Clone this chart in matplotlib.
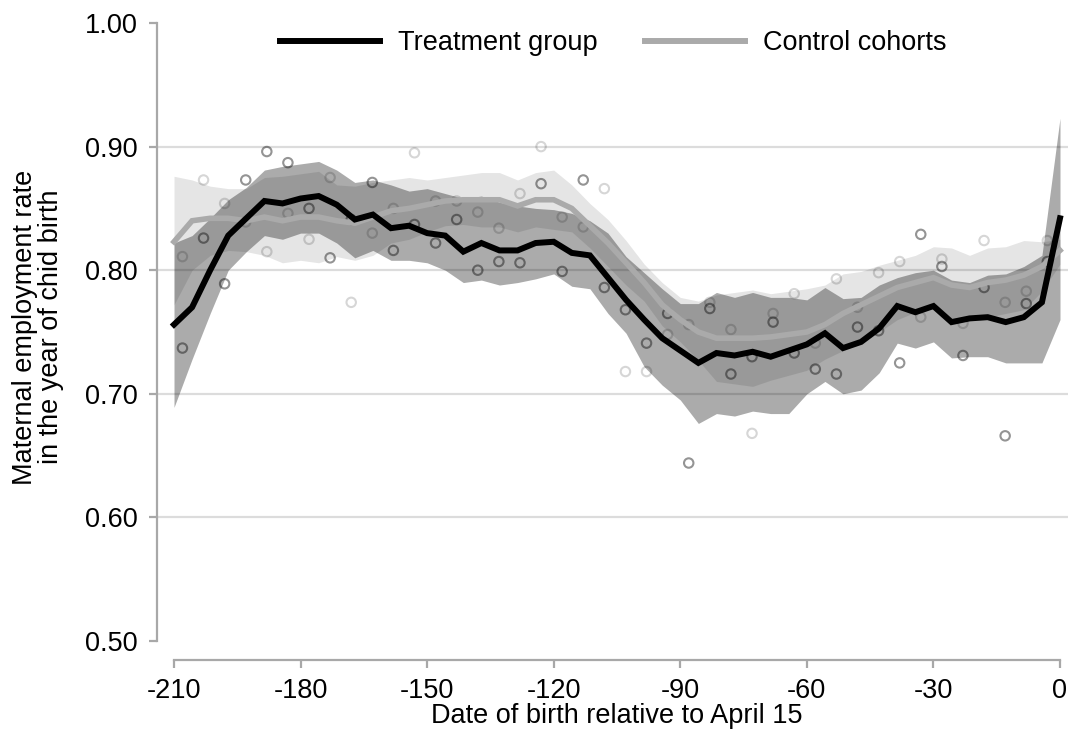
import numpy as np
import matplotlib
matplotlib.use("Agg")
import matplotlib.pyplot as plt
from matplotlib.lines import Line2D

plt.rcParams['font.family'] = ['Liberation Sans', 'DejaVu Sans']

# smoothed series, 50 points from -210 to 0
days = np.linspace(-210, 0, 50)

treat = [0.756, 0.770, 0.800, 0.828, 0.842, 0.856, 0.854, 0.858, 0.860, 0.853,
         0.841, 0.845, 0.834, 0.836, 0.830, 0.828, 0.815, 0.822, 0.816, 0.816,
         0.822, 0.823, 0.814, 0.812, 0.794, 0.776, 0.760, 0.745, 0.735, 0.725,
         0.733, 0.731, 0.734, 0.730, 0.735, 0.740, 0.749, 0.737, 0.742, 0.753,
         0.771, 0.766, 0.771, 0.758, 0.761, 0.762, 0.758, 0.762, 0.774, 0.842]
treat_hi = [0.822, 0.828, 0.842, 0.857, 0.867, 0.881, 0.884, 0.886, 0.888, 0.881,
            0.871, 0.873, 0.869, 0.864, 0.866, 0.862, 0.858, 0.860, 0.855, 0.852,
            0.850, 0.849, 0.846, 0.840, 0.830, 0.811, 0.798, 0.785, 0.773, 0.773,
            0.782, 0.778, 0.782, 0.778, 0.778, 0.776, 0.786, 0.777, 0.778, 0.788,
            0.794, 0.798, 0.800, 0.792, 0.790, 0.796, 0.797, 0.803, 0.812, 0.923]
treat_lo = [0.689, 0.728, 0.765, 0.800, 0.815, 0.828, 0.825, 0.830, 0.830, 0.822,
            0.810, 0.816, 0.808, 0.808, 0.806, 0.800, 0.790, 0.792, 0.788, 0.790,
            0.793, 0.797, 0.787, 0.785, 0.765, 0.749, 0.722, 0.707, 0.695, 0.676,
            0.684, 0.682, 0.686, 0.684, 0.684, 0.700, 0.710, 0.700, 0.703, 0.717,
            0.741, 0.737, 0.742, 0.729, 0.730, 0.730, 0.725, 0.725, 0.725, 0.760]

ctrl = [0.823, 0.840, 0.842, 0.842, 0.840, 0.843, 0.840, 0.843, 0.843, 0.840,
        0.838, 0.843, 0.848, 0.850, 0.853, 0.856, 0.857, 0.857, 0.857, 0.852,
        0.857, 0.857, 0.850, 0.836, 0.822, 0.806, 0.790, 0.772, 0.760, 0.750,
        0.745, 0.745, 0.745, 0.746, 0.748, 0.750, 0.756, 0.765, 0.772, 0.779,
        0.786, 0.790, 0.794, 0.788, 0.786, 0.790, 0.792, 0.796, 0.803, 0.816]
ctrl_hi = [0.876, 0.873, 0.868, 0.866, 0.866, 0.875, 0.876, 0.878, 0.880, 0.869,
           0.868, 0.871, 0.873, 0.875, 0.873, 0.875, 0.877, 0.879, 0.879, 0.873,
           0.879, 0.881, 0.869, 0.854, 0.841, 0.824, 0.805, 0.790, 0.778, 0.775,
           0.780, 0.782, 0.784, 0.781, 0.783, 0.785, 0.788, 0.797, 0.799, 0.804,
           0.808, 0.812, 0.819, 0.818, 0.812, 0.818, 0.819, 0.824, 0.823, 0.825]
ctrl_lo = [0.772, 0.800, 0.812, 0.816, 0.815, 0.812, 0.806, 0.808, 0.806, 0.811,
           0.808, 0.812, 0.822, 0.825, 0.831, 0.836, 0.837, 0.835, 0.835, 0.831,
           0.835, 0.833, 0.831, 0.818, 0.803, 0.788, 0.775, 0.755, 0.742, 0.727,
           0.710, 0.708, 0.706, 0.711, 0.715, 0.719, 0.728, 0.735, 0.741, 0.750,
           0.760, 0.766, 0.769, 0.758, 0.760, 0.762, 0.765, 0.768, 0.783, 0.805]

# raw bin means, 5-day bins
dot_days = np.arange(-208, 0, 5)
treat_dots = [0.737, 0.826, 0.789, 0.873, 0.896, 0.887, 0.850, 0.810, 0.841, 0.871,
              0.816, 0.837, 0.822, 0.841, 0.800, 0.807, 0.806, 0.870, 0.799, 0.873,
              0.786, 0.768, 0.741, 0.765, 0.644, 0.769, 0.716, 0.730, 0.758, 0.733,
              0.720, 0.716, 0.754, 0.751, 0.725, 0.829, 0.803, 0.731, 0.786, 0.666,
              0.773, 0.807]
ctrl_dots = [0.811, 0.873, 0.854, 0.839, 0.815, 0.846, 0.825, 0.875, 0.774, 0.830,
             0.850, 0.895, 0.856, 0.856, 0.847, 0.834, 0.862, 0.900, 0.843, 0.835,
             0.866, 0.718, 0.718, 0.748, 0.756, 0.774, 0.752, 0.668, 0.765, 0.781,
             0.741, 0.793, 0.770, 0.798, 0.807, 0.762, 0.809, 0.757, 0.824, 0.774,
             0.783, 0.824]

axis_grey = '#a8a8a8'

fig = plt.figure(figsize=(10.73, 7.29), dpi=100)
ax = fig.add_axes([157 / 1073, 1 - 660 / 729, 911 / 1073, 645 / 729])

for g in [0.6, 0.7, 0.8, 0.9]:
    ax.axhline(g, color='#dcdcdc', lw=1.6, zorder=0)

ax.fill_between(days, ctrl_lo, ctrl_hi, color='black', alpha=0.10, lw=0, zorder=1)
ax.fill_between(days, treat_lo, treat_hi, color='black', alpha=0.33, lw=0, zorder=2)
ax.scatter(dot_days, ctrl_dots, s=46, facecolors='none', edgecolors='black',
           alpha=0.16, linewidths=1.5, zorder=3)
ax.scatter(dot_days, treat_dots, s=46, facecolors='none', edgecolors='black',
           alpha=0.42, linewidths=1.5, zorder=3)
ax.plot(days, ctrl, color='#aaaaaa', lw=4, zorder=4, solid_joinstyle='miter')
ax.plot(days, treat, color='black', lw=4.3, zorder=5, solid_joinstyle='miter')

ax.set_xlim(-210 - 17 / 4.219, 8 / 4.219)
ax.set_ylim(0.5 - 19 / 1236, 1.0 + 8 / 1236)

for s in ['top', 'right']:
    ax.spines[s].set_visible(False)
for s in ['left', 'bottom']:
    ax.spines[s].set_color(axis_grey)
    ax.spines[s].set_linewidth(1.6)
ax.spines['left'].set_bounds(0.5, 1.0)
ax.spines['bottom'].set_bounds(-210, 0)

ax.set_xticks([-210, -180, -150, -120, -90, -60, -30, 0])
ax.set_xticklabels(['-210', '-180', '-150', '-120', '-90', '-60', '-30', '0'])
ax.set_yticks([0.5, 0.6, 0.7, 0.8, 0.9, 1.0])
ax.set_yticklabels(['0.50', '0.60', '0.70', '0.80', '0.90', '1.00'])
ax.tick_params(axis='both', direction='out', length=6, width=1.6,
               color=axis_grey, labelsize=19.5, labelcolor='black')
ax.tick_params(axis='x', pad=7)
ax.tick_params(axis='y', pad=8)

ax.set_xlabel('Date of birth relative to April 15', fontsize=19.5)
ax.xaxis.set_label_coords((617 - 157) / 911, -0.087)
ax.xaxis.label.set_va('center')

fig.text(38 / 1073, 1 - 327 / 729,
         'Maternal employment rate\nin the year of chid birth',
         rotation=90, ha='center', va='center', multialignment='center',
         fontsize=19.5, linespacing=1.0)

handles = [Line2D([], [], color='black', lw=4.3),
           Line2D([], [], color='#aaaaaa', lw=4.3)]
fig.legend(handles, ['Treatment group', 'Control cohorts'], ncol=2,
           frameon=False, loc='center', fontsize=19.5,
           bbox_to_anchor=(613 / 1073, 1 - 43 / 729),
           handlelength=3.7, handletextpad=0.65, columnspacing=1.75)

fig.savefig('out.png', dpi=100)
